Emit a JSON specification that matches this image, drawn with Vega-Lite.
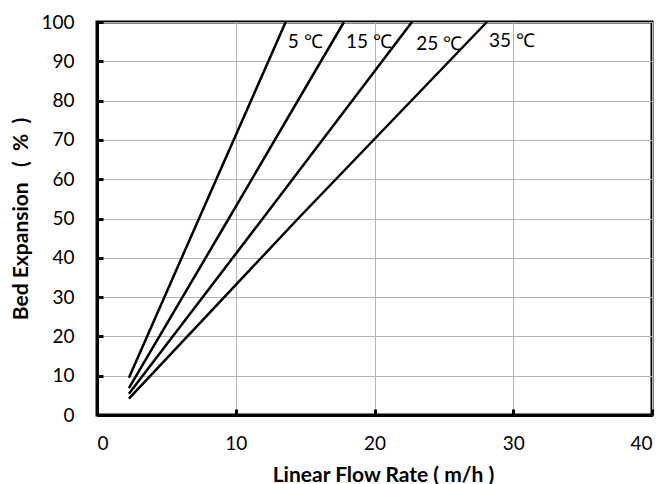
{
  "$schema": "https://vega.github.io/schema/vega-lite/v6.json",
  "autosize": "none",
  "width": 555,
  "height": 393,
  "padding": {"left": 97, "top": 22, "right": 13, "bottom": 69},
  "background": "white",
  "config": {
    "font": "Lato",
    "view": {"stroke": "black", "strokeWidth": 3},
    "axis": {
      "gridColor": "#b3b3b3",
      "gridWidth": 1,
      "domainColor": "black",
      "domainWidth": 3,
      "tickColor": "black",
      "tickWidth": 3,
      "tickSize": -6,
      "labelFont": "Lato",
      "labelFontSize": 19,
      "labelColor": "black",
      "labelOverlap": false,
      "titleFont": "Lato",
      "titleFontSize": 21,
      "titleFontWeight": "bold",
      "titleColor": "black"
    }
  },
  "datasets": {
    "lines": [
      {"series": "5", "rate": 2.3, "expansion": 9.5},
      {"series": "5", "rate": 8.6, "expansion": 60},
      {"series": "5", "rate": 13.6, "expansion": 100},
      {"series": "15", "rate": 2.3, "expansion": 6.85},
      {"series": "15", "rate": 9.5, "expansion": 50},
      {"series": "15", "rate": 17.8, "expansion": 100},
      {"series": "25", "rate": 2.3, "expansion": 5.4},
      {"series": "25", "rate": 11.95, "expansion": 50},
      {"series": "25", "rate": 22.7, "expansion": 100},
      {"series": "35", "rate": 2.3, "expansion": 4.15},
      {"series": "35", "rate": 14.5, "expansion": 50},
      {"series": "35", "rate": 28.1, "expansion": 100}
    ],
    "labels": [
      {"text": "5 ℃", "rate": 13.75, "expansion": 95},
      {"text": "15 ℃", "rate": 17.95, "expansion": 95},
      {"text": "25 ℃", "rate": 23.0, "expansion": 94.3},
      {"text": "35 ℃", "rate": 28.25, "expansion": 95.2}
    ]
  },
  "encoding": {
    "x": {
      "field": "rate", "type": "quantitative",
      "scale": {"domain": [0, 40], "nice": false, "zero": true},
      "axis": {"values": [0, 10, 20, 30, 40], "title": "Linear Flow Rate ( m/h )", "titlePadding": 11, "labelPadding": 25, "titleX": 286, "labelOverlap": false}
    },
    "y": {
      "field": "expansion", "type": "quantitative",
      "scale": {"domain": [0, 100], "nice": false},
      "axis": {"values": [0, 10, 20, 30, 40, 50, 60, 70, 80, 90, 100], "tickCount": 11, "title": "Bed Expansion\u00a0\u00a0\u00a0(\u00a0\u00a0%\u00a0\u00a0)", "titlePadding": 9, "labelPadding": 29, "labelOverlap": false}
    }
  },
  "layer": [
    {
      "data": {"name": "lines"},
      "mark": {"type": "line", "color": "black", "strokeWidth": 2.5},
      "encoding": {
        "detail": {"field": "series"},
        "order": {"field": "expansion", "type": "quantitative"}
      }
    },
    {
      "data": {"name": "labels"},
      "mark": {"type": "text", "align": "left", "baseline": "middle", "fontSize": 19, "font": "Lato", "color": "black"},
      "encoding": {
        "text": {"field": "text"}
      }
    }
  ]
}
